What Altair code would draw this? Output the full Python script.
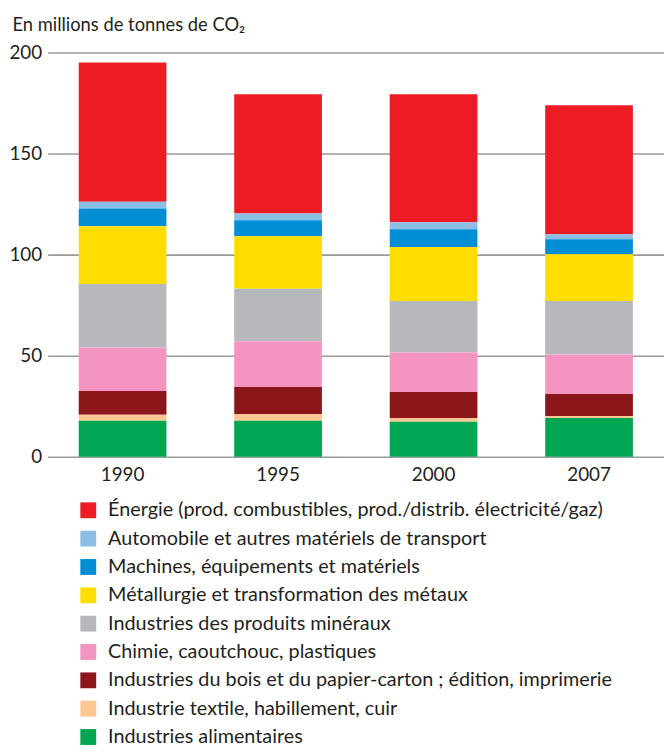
import altair as alt
import pandas as pd

years = ["1990", "1995", "2000", "2007"]

categories = [
    "Énergie (prod. combustibles, prod./distrib. électricité/gaz)",
    "Automobile et autres matériels de transport",
    "Machines, équipements et matériels",
    "Métallurgie et transformation des métaux",
    "Industries des produits minéraux",
    "Chimie, caoutchouc, plastiques",
    "Industries du bois et du papier-carton ; édition, imprimerie",
    "Industrie textile, habillement, cuir",
    "Industries alimentaires",
]

energie = [68.8, 58.9, 63.3, 63.8]
automobile = [3.4, 3.4, 3.4, 2.5]
machines = [8.8, 7.9, 8.8, 7.4]
metallurgie = [28.5, 26.0, 26.7, 23.1]
mineraux = [31.4, 26.0, 25.5, 26.5]
chimie = [21.6, 22.6, 19.6, 19.6]
bois = [11.7, 13.3, 12.8, 10.8]
textile = [3.0, 3.4, 1.9, 1.0]
alimentaires = [17.8, 17.8, 17.3, 19.2]

series = [energie, automobile, machines, metallurgie, mineraux, chimie, bois, textile, alimentaires]

colors = ["#ED1C24", "#8DBFE6", "#008FD5", "#FFDD00", "#B7B8BB",
          "#F395C0", "#8B171B", "#FDC793", "#00A651"]

rows = []
for i, (cat, vals) in enumerate(zip(categories, series)):
    for y, v in zip(years, vals):
        rows.append({"year": y, "cat": cat, "idx": i, "value": v})
df = pd.DataFrame(rows)

FONT = "Lato, Roboto, sans-serif"
TXT = "#231F20"

chart = alt.Chart(df).mark_bar().encode(
    x=alt.X("year:N", sort=years,
            scale=alt.Scale(paddingInner=0.436, paddingOuter=0.2),
            axis=alt.Axis(title=None, labelAngle=0, domain=False, ticks=False,
                          labelPadding=9, labelFontSize=19, labelFont=FONT,
                          labelColor=TXT)),
    y=alt.Y("value:Q", stack="zero",
            scale=alt.Scale(domain=[0, 200], nice=False),
            axis=alt.Axis(values=[0, 50, 100, 150, 200], domain=False, ticks=False,
                          grid=True, gridColor="#9A9A9A", gridWidth=1.6,
                          labelPadding=6, labelFontSize=19, labelFont=FONT,
                          labelColor=TXT,
                          title="En millions de tonnes de CO₂", titleAngle=0,
                          titleAlign="left", titleBaseline="middle",
                          titleX=-36, titleY=-28, titleFontSize=18.5,
                          titleFont=FONT, titleFontWeight="normal",
                          titleColor=TXT)),
    color=alt.Color("cat:N", scale=alt.Scale(domain=categories, range=colors),
                    legend=alt.Legend(title=None, orient="none", legendX=31,
                                      legendY=452, symbolType="square",
                                      symbolSize=256, symbolStrokeWidth=0,
                                      labelFontSize=20, labelFont=FONT,
                                      labelColor=TXT, labelOffset=10,
                                      rowPadding=8.6, padding=0,
                                      labelLimit=700)),
    order=alt.Order("idx:Q", sort="descending"),
).properties(
    width=622, height=408,
    autosize=alt.AutoSizeParams(type="none"),
    padding={"left": 40, "top": 41.5, "right": 0, "bottom": 290.5},
).configure_view(stroke=None)

chart.save("out.html", embed_options={"renderer": "svg", "actions": False})
